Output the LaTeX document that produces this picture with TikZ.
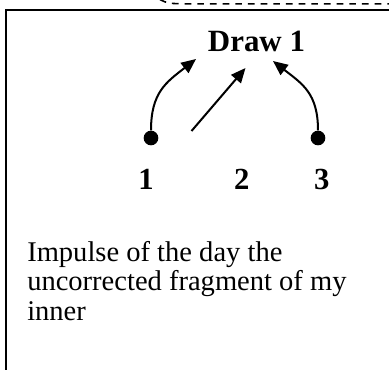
\documentclass[tikz,border=0pt]{standalone}
\usepackage{fontspec}
\setmainfont{Liberation Serif}
\usetikzlibrary{arrows.meta}
\tikzset{
  dot/.style={circle, fill=black, inner sep=0pt, minimum size=11pt},
  arr/.style={line width=1.5pt, -{Triangle[length=11pt, width=9.5pt]}},
  num/.style={font=\fontsize{23}{27}\selectfont\bfseries, anchor=base, inner sep=0pt}
}
\begin{document}
\begin{tikzpicture}[x=0.75pt, y=0.75pt]
\useasboundingbox (0,0) rectangle (389,-369);
% frame and the dashed edge above it
\draw[line width=1.5pt] (400,-10) -- (6,-10) -- (6,-380);
\draw[line width=1.2pt, dash pattern=on 5pt off 4.5pt] (160,0.5) .. controls (168,-3.5) .. (185,-3.8) -- (395,-3.8);
\node[num, font=\fontsize{23.2}{27}\selectfont\bfseries] (title) at (256.5,-51.7) {Draw 1};
\node[dot] (p1) at (151,-138) {};
\node[dot] (p3) at (318,-138) {};
\coordinate (t1) at (196,-59);
\coordinate (t3) at (273,-61);
\coordinate (s2) at (191.5,-131);
\coordinate (t2) at (245.5,-68);
\draw[arr] (p1) to[out=90, in=218, looseness=1.15] (t1);
\draw[arr] (p3) to[out=90, in=-38, looseness=1.15] (t3);
\draw[arr] (s2) -- (t2);
\foreach \x/\n in {146/1, 241.7/2, 321.7/3}
  \node[num] (n\n) at (\x,-189) {\n};
\node[anchor=base west, inner sep=0pt, align=left, font=\fontsize{21.4}{22.1}\selectfont] (txt) at (27,-320)
  {Impulse of the day the\\uncorrected fragment of my\\inner};
\end{tikzpicture}
\end{document}
